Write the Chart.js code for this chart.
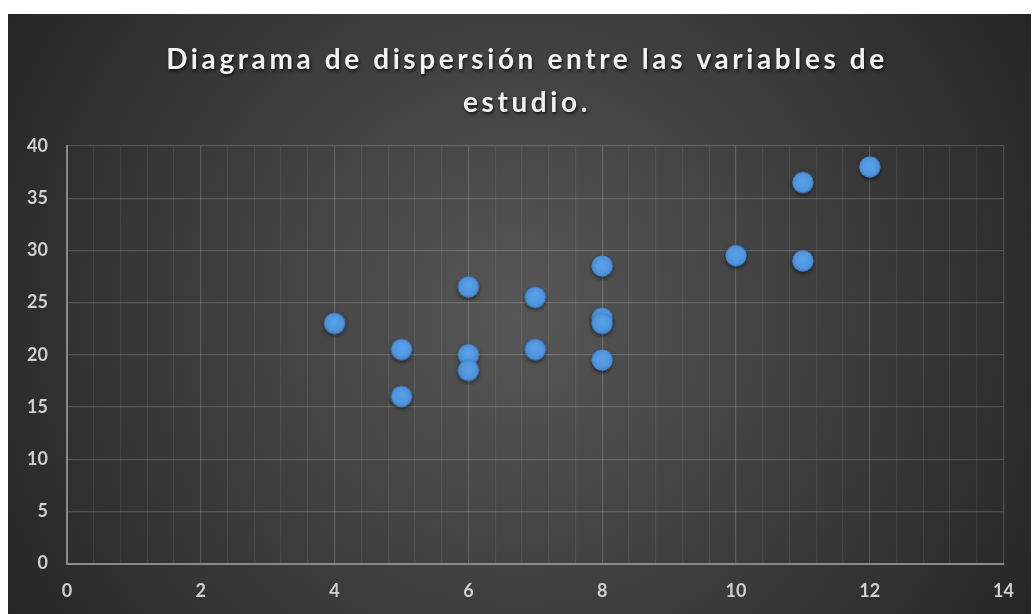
<!DOCTYPE html>
<html>
<head>
<meta charset="utf-8">
<script src="https://cdn.jsdelivr.net/npm/chart.js@4/dist/chart.umd.min.js"></script>
<style>
  html, body { margin: 0; padding: 0; background: #ffffff; }
  #wrap { position: absolute; left: 8px; top: 14px; width: 1023px; height: 600px; }
</style>
</head>
<body>
<div id="wrap"><canvas id="c"></canvas></div>
<script>
// ---- data ----
const titleLines = ['Diagrama de dispersión entre las variables de', 'estudio.'];
const xValues = [4, 5, 5, 6, 6, 6, 7, 7, 8, 8, 8, 8, 10, 11, 11, 12];
const yValues = [23, 20.5, 16, 26.5, 20, 18.5, 25.5, 20.5, 28.5, 23.5, 23, 19.5, 29.5, 36.5, 29, 38];
const xTickLabels = [0, 2, 4, 6, 8, 10, 12, 14];
const yTickLabels = [0, 5, 10, 15, 20, 25, 30, 35, 40];

const points = xValues.map((x, i) => ({ x: x, y: yValues[i] }));

// glossy marker image
function makeMarker() {
  const s = 30, c = document.createElement('canvas');
  c.width = s; c.height = s;
  const g = c.getContext('2d');
  g.save();
  g.shadowColor = 'rgba(0,0,0,0.55)';
  g.shadowBlur = 4;
  g.shadowOffsetY = 2;
  g.beginPath(); g.arc(s / 2, s / 2, 10.5, 0, Math.PI * 2);
  g.fillStyle = '#4a8fd8';
  g.fill();
  g.restore();
  const grad = g.createRadialGradient(s / 2, s / 2 - 2, 1, s / 2, s / 2, 11);
  grad.addColorStop(0, '#5aa2e8');
  grad.addColorStop(0.75, '#4e95de');
  grad.addColorStop(1, '#3a7fca');
  g.beginPath(); g.arc(s / 2, s / 2, 10.5, 0, Math.PI * 2);
  g.fillStyle = grad; g.fill();
  return c;
}
const marker = makeMarker();

const bgPlugin = {
  id: 'bg',
  beforeDraw(chart) {
    const ctx = chart.ctx, w = chart.width, h = chart.height;
    const gr = ctx.createRadialGradient(w * 0.5, h * 0.5, 0, w * 0.5, h * 0.5, 590);
    gr.addColorStop(0, '#575757');
    gr.addColorStop(1, '#262626');
    ctx.save();
    ctx.fillStyle = gr;
    ctx.fillRect(0, 0, w, h);
    ctx.restore();
  },
  afterInit(chart) {
    const tb = chart.titleBlock;
    if (tb && !tb._wrapped) {
      const orig = tb.draw.bind(tb);
      tb.draw = function (area) {
        const ctx = chart.ctx;
        ctx.save();
        ctx.translate(20, 0);
        ctx.letterSpacing = '3.6px';
        ctx.shadowColor = 'rgba(0,0,0,0.7)';
        ctx.shadowBlur = 3;
        ctx.shadowOffsetX = 1;
        ctx.shadowOffsetY = 2;
        orig(area);
        ctx.restore();
      };
      tb._wrapped = true;
    }
  }
};

const isMajorX = v => Math.abs(v / 2 - Math.round(v / 2)) < 1e-6;

new Chart(document.getElementById('c'), {
  type: 'scatter',
  data: {
    datasets: [{
      data: points,
      pointStyle: marker,
      pointRadius: 10,
      pointHoverRadius: 10
    }]
  },
  options: {
    responsive: true,
    maintainAspectRatio: false,
    animation: false,
    events: [],
    layout: { padding: { left: 0, right: 25, top: 0, bottom: 0 } },
    plugins: {
      legend: { display: false },
      tooltip: { enabled: false },
      title: {
        display: true,
        text: titleLines,
        color: '#f2f2f2',
        font: { family: 'Lato', size: 28, weight: 'bold', lineHeight: 1.536 },
        padding: { top: 24.5, bottom: 21.5 }
      }
    },
    scales: {
      x: {
        type: 'linear',
        min: 0, max: 14,
        afterFit(scale) { scale.height = 50.5; },
        afterBuildTicks(scale) {
          const t = [];
          for (let i = 0; i <= 35; i++) t.push({ value: Math.round(i * 0.4 * 10) / 10 });
          scale.ticks = t;
        },
        ticks: {
          autoSkip: false,
          maxRotation: 0,
          padding: 17,
          color: '#d0d0d0',
          font: { family: 'Lato', size: 18, weight: 'bold' },
          callback: v => (isMajorX(v) && xTickLabels.includes(Math.round(v))) ? String(Math.round(v)) : ''
        },
        grid: {
          drawTicks: false,
          color: ctx => isMajorX(ctx.tick.value) ? 'rgba(255,255,255,0.17)' : 'rgba(255,255,255,0.07)',
          lineWidth: 1.2
        },
        border: { color: '#8a8a8a', width: 2 }
      },
      y: {
        type: 'linear',
        min: 0, max: 40,
        afterFit(scale) { scale.width = 59; },
        afterBuildTicks(scale) {
          scale.ticks = yTickLabels.map(v => ({ value: v }));
        },
        ticks: {
          padding: 19,
          color: '#d0d0d0',
          font: { family: 'Lato', size: 18, weight: 'bold' },
          callback: v => String(v)
        },
        grid: {
          drawTicks: false,
          color: 'rgba(255,255,255,0.17)',
          lineWidth: 1.2
        },
        border: { color: '#8a8a8a', width: 2 }
      }
    }
  },
  plugins: [bgPlugin]
});
</script>
</body>
</html>
